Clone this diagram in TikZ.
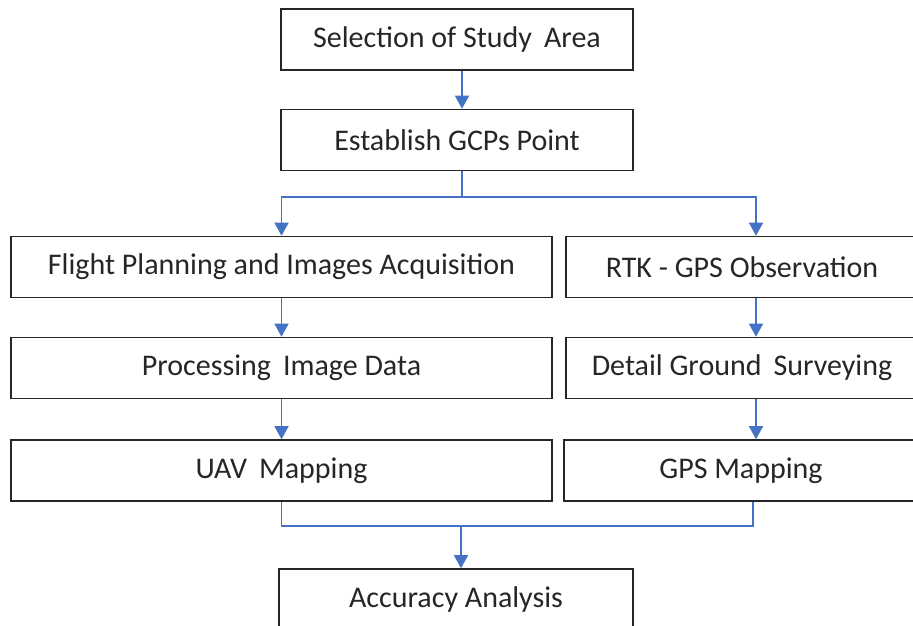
\documentclass[tikz,border=0pt]{standalone}
\usepackage{fontspec}
\setmainfont{Carlito}
\usetikzlibrary{arrows.meta}
\definecolor{flowblue}{HTML}{4472C4}
\tikzset{
  stage/.style={draw=black!85, line width=1.6pt, minimum height=61pt, inner sep=0pt,
    font=\fontsize{30}{36}\selectfont, text=black!85},
  link/.style={draw=flowblue, line width=1.5pt},
  flow/.style={link, -{Triangle[width=14pt,length=13pt]}}
}
\begin{document}
\begin{tikzpicture}[x=1pt,y=-1pt]
			\useasboundingbox (0,0) rectangle (913,626);
			\clip (0,0) rectangle (913,626);
			% top of the chart
			\node (sel) [stage, minimum width=352pt] at (457,39.5) {Selection of Study\hspace{0.4em}Area};
			\node (gcp) [stage, minimum width=352pt] at (457,140) {Establish GCPs Point};
			% left column (UAV)
			\node (flight) [stage, minimum width=541pt] at (281.5,267) {Flight Planning and Images Acquisition};
			\node (proc) [stage, minimum width=541pt] at (281.5,368) {Processing\hspace{0.4em}Image Data};
			\node (uav) [stage, minimum width=541pt] at (281.5,470.5) {UAV\hspace{0.4em}Mapping};
			% right column (GPS)
			\node (rtk) [stage, minimum width=352pt] at (742,267) {RTK - GPS Observation};
			\node (detail) [stage, minimum width=352pt] at (742,368) {Detail Ground\hspace{0.4em}Surveying};
			\node (gpsmap) [stage, minimum width=354pt] at (741,470.5) {GPS Mapping};
			% bottom
			\node (acc) [stage, minimum width=354pt] at (456,599.5) {Accuracy Analysis};
			\coordinate (split) at (462,197);
			\coordinate (merge) at (461,526);
			\draw[flow] ([xshift=5pt]sel.south) -- ([xshift=5pt]gcp.north);
			\draw[link] ([xshift=5pt]gcp.south) -- (split);
			\draw[flow] (split) -| (flight.north);
			\draw[flow] (split) -| ([xshift=14pt]rtk.north);
			\draw[flow] (flight) -- (proc);
			\draw[flow] (proc) -- (uav);
			\draw[flow] ([xshift=14pt]rtk.south) -- ([xshift=14pt]detail.north);
			\draw[flow] ([xshift=14pt]detail.south) -- ([xshift=15pt]gpsmap.north);
			\draw[link] (uav.south) |- (merge) -| ([xshift=12pt]gpsmap.south);
			\draw[flow] (merge) -- (merge |- acc.north);
		\end{tikzpicture}
\end{document}
